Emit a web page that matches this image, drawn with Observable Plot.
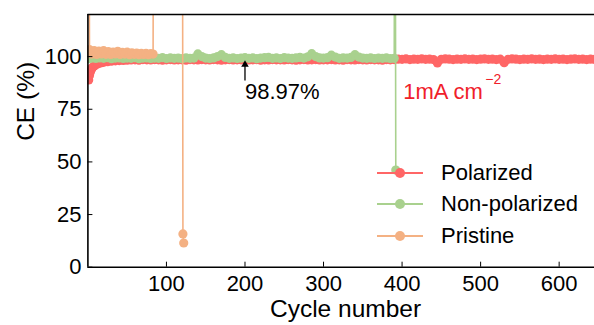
<!DOCTYPE html>
<html><head><meta charset="utf-8">
<script src="https://cdn.jsdelivr.net/npm/d3@7"></script>
<script src="https://cdn.jsdelivr.net/npm/@observablehq/plot@0.6"></script>
<style>
html,body{margin:0;padding:0;background:#fff;}
#wrap{position:relative;width:594px;height:325px;font-family:"Liberation Sans",Arial,sans-serif;}
#legend{position:absolute;left:377px;top:157px;}
.row{display:flex;align-items:center;height:31.5px;font-size:22px;color:#000;white-space:nowrap;}
.row svg{margin-right:18px;display:block;}
</style></head><body><div id="wrap"><div id="legend"></div></div>
<script>
// ---- data ----
const seriesNames = ["Polarized", "Non-polarized", "Pristine"];
const seriesColors = ["#FF6666", "#A9D18E", "#F4B183"];

const polarizedCycles = [1,2,3,4,5,6,8,10,13,16,20,25,30,35,40,45,50,
  55,60,65,70,75,80,85,90,95,100,105,110,115,120,125,130,135,140,145,150,
  155,160,165,170,175,180,185,190,195,200,205,210,215,220,225,230,235,240,245,250,
  255,260,265,270,275,280,285,290,295,300,305,310,315,320,325,330,335,340,345,350,
  355,360,365,370,375,380,385,390,395,400,405,410,415,420,425,430,435,440,
  445,450,455,460,465,470,475,480,485,490,495,500,505,510,515,520,525,530,535,540,
  545,550,555,560,565,570,575,580,585,590,595,600,605,610,615,620,625,630,635,640,645];
const polarizedCE = [88.9,91.0,92.6,93.6,94.3,94.9,95.6,96.1,96.6,97.0,97.3,97.6,97.8,98.0,98.1,98.2,98.3,
  98.4,98.5,98.3,98.6,98.5,98.4,98.6,98.5,98.3,98.5,
  98.6,98.4,98.5,98.5,98.3,98.6,98.5,98.4,98.6,98.5,
  98.4,98.6,98.5,98.3,98.5,98.6,98.4,98.5,98.5,98.6,
  98.4,98.5,98.6,98.3,98.5,98.4,98.6,98.5,98.5,98.4,
  98.6,98.5,98.3,98.5,98.6,98.4,98.5,98.6,98.4,98.5,
  98.5,98.6,98.4,98.5,98.3,98.6,98.5,98.4,98.6,98.5,
  98.4,98.6,98.5,98.5,98.3,98.6,98.5,98.6,
  98.8,98.7,98.9,98.6,98.8,98.7,98.9,98.7,98.8,98.6,
  97.0,98.7,98.9,98.8,98.6,98.8,98.7,98.9,98.7,98.8,
  98.6,98.8,98.9,98.7,98.8,98.6,98.8,97.1,98.7,98.9,
  98.8,98.6,98.8,98.7,98.9,98.7,98.8,98.6,98.8,98.7,
  98.9,98.7,98.8,98.6,98.8,98.9,98.7,98.8,98.6,98.8,98.7];

const nonPolarizedCycles = [1,5,10,15,20,25,30,35,40,45,50,55,60,65,70,75,80,85,90,95,100,
  105,110,115,120,125,130,135,140,145,150,155,160,165,170,175,180,185,190,195,200,
  205,210,215,220,225,230,235,240,245,250,255,260,265,270,275,280,285,290,295,300,
  305,310,315,320,325,330,335,340,345,350,355,360,365,370,375,380,385,390,391,392];
const nonPolarizedCE = [99.0,
  99.3,99.1,99.4,99.2,99.5,99.0,99.3,99.4,99.1,99.3,
  99.2,99.5,99.0,99.3,99.4,99.1,99.3,99.2,99.5,99.1,
  99.4,99.2,99.3,99.0,99.4,99.2,99.3,101.3,100.0,99.3,
  99.1,99.4,100.0,100.9,99.6,99.2,99.4,99.1,99.3,99.5,
  99.2,99.4,99.0,99.3,99.5,99.6,99.2,99.4,99.1,99.5,
  99.3,99.2,99.4,99.6,99.3,99.9,101.4,100.0,99.4,99.3,
  99.5,100.7,99.8,99.2,99.4,99.3,99.6,100.9,99.8,99.3,
  99.2,99.4,99.1,99.3,99.2,99.4,99.1,99.2,250,46.1];

const pristineCycles = [1,2,5,8,11,14,17,20,23,26,29,32,35,38,41,44,47,50,53,56,59,62,65,68,71,74,77,80,83,84,120,121,122];
const pristineCE = [300,103.3,101.2,102.9,101.0,102.6,101.3,102.8,101.1,102.4,101.0,102.2,101.3,102.5,101.0,
  102.0,101.2,102.1,100.9,101.8,101.1,101.7,100.9,101.6,101.0,101.5,100.9,101.4,101.2,300,300,15.8,11.5];

const xDomain = [0, 645];
const yDomain = [0, 120];
const xTicks = [100, 200, 300, 400, 500, 600];
const yTicks = [0, 25, 50, 75, 100];
const xLabel = "Cycle number";
const yLabel = "CE (%)";

const avgNote = [{cycle: 200, ce: 83.4, text: "98.97%"}];
const avgArrow = [{cycle: 200, from: 88.4, to: 95.6, head: 96.2}];
const currentNote = [{cycle: 401.5, ce: 83.2, text: "1mA cm", sup: "\u22122"}];

// ---- build ----
const mk = (cycles, ce) => cycles.map((c, i) => ({cycle: c, ce: ce[i]}));
const series = [mk(polarizedCycles, polarizedCE), mk(nonPolarizedCycles, nonPolarizedCE), mk(pristineCycles, pristineCE)];

const font = "Liberation Sans, Arial, sans-serif";
const dataMarks = [];
series.forEach((d, i) => {
  dataMarks.push(Plot.line(d, {x: "cycle", y: "ce", stroke: seriesColors[i], strokeWidth: 1.6, clip: true}));
  dataMarks.push(Plot.dot(d, {x: "cycle", y: "ce", fill: seriesColors[i], r: 4.6, clip: true}));
});

const chart = Plot.plot({
  width: 594, height: 325,
  marginLeft: 87.4, marginRight: 0, marginTop: 14, marginBottom: 58.3,
  style: {fontFamily: font, fontSize: "22px", color: "#000", background: "#fff", overflow: "visible"},
  x: {domain: xDomain},
  y: {domain: yDomain},
  marks: [
    ...dataMarks,
    Plot.ruleX(avgArrow, {x: "cycle", y1: "from", y2: "to", stroke: "#000", strokeWidth: 1.3}),
    Plot.dot(avgArrow, {x: "cycle", y: "head", symbol: "triangle", r: 2.8, fill: "#000"}),
    Plot.text(avgNote, {x: "cycle", y: "ce", text: "text", textAnchor: "start", lineAnchor: "middle", fontSize: 22, fill: "#000"}),
    Plot.text(currentNote, {x: "cycle", y: "ce", text: "text", textAnchor: "start", lineAnchor: "middle", fontSize: 22, fill: "#F0202A"}),
    Plot.text(currentNote, {x: "cycle", y: "ce", text: "sup", textAnchor: "start", lineAnchor: "middle", fontSize: 14, fill: "#F0202A", dx: 82, dy: -12}),
    Plot.ruleX([xDomain[0]], {stroke: "#000", strokeWidth: 1.6}),
    Plot.ruleY([yDomain[0]], {stroke: "#000", strokeWidth: 1.6}),
    Plot.ruleY([yDomain[1]], {stroke: "#000", strokeWidth: 1.6}),
    Plot.axisX({ticks: xTicks, tickSize: -5, tickPadding: 12.8, label: null, fontSize: 22}),
    Plot.axisY({ticks: yTicks, tickSize: -5, tickPadding: 11.4, label: null, fontSize: 22}),
    Plot.text([xLabel], {frameAnchor: "bottom", dy: 41.5, dx: 4.3, fontSize: 24.5, lineAnchor: "middle"}),
    Plot.text([yLabel], {frameAnchor: "left", dx: -61.4, rotate: -90, fontSize: 24.5, lineAnchor: "middle"})
  ]
});
const wrap = document.getElementById("wrap");
wrap.insertBefore(chart, wrap.firstChild);

const legend = document.getElementById("legend");
seriesNames.forEach((name, i) => {
  const row = document.createElement("div");
  row.className = "row";
  row.innerHTML = `<svg width="46" height="14"><line x1="0" x2="46" y1="7" y2="7" stroke="${seriesColors[i]}" stroke-width="2"/><circle cx="23" cy="7" r="5" fill="${seriesColors[i]}"/></svg><span>${name}</span>`;
  legend.appendChild(row);
});
</script>
</body></html>
